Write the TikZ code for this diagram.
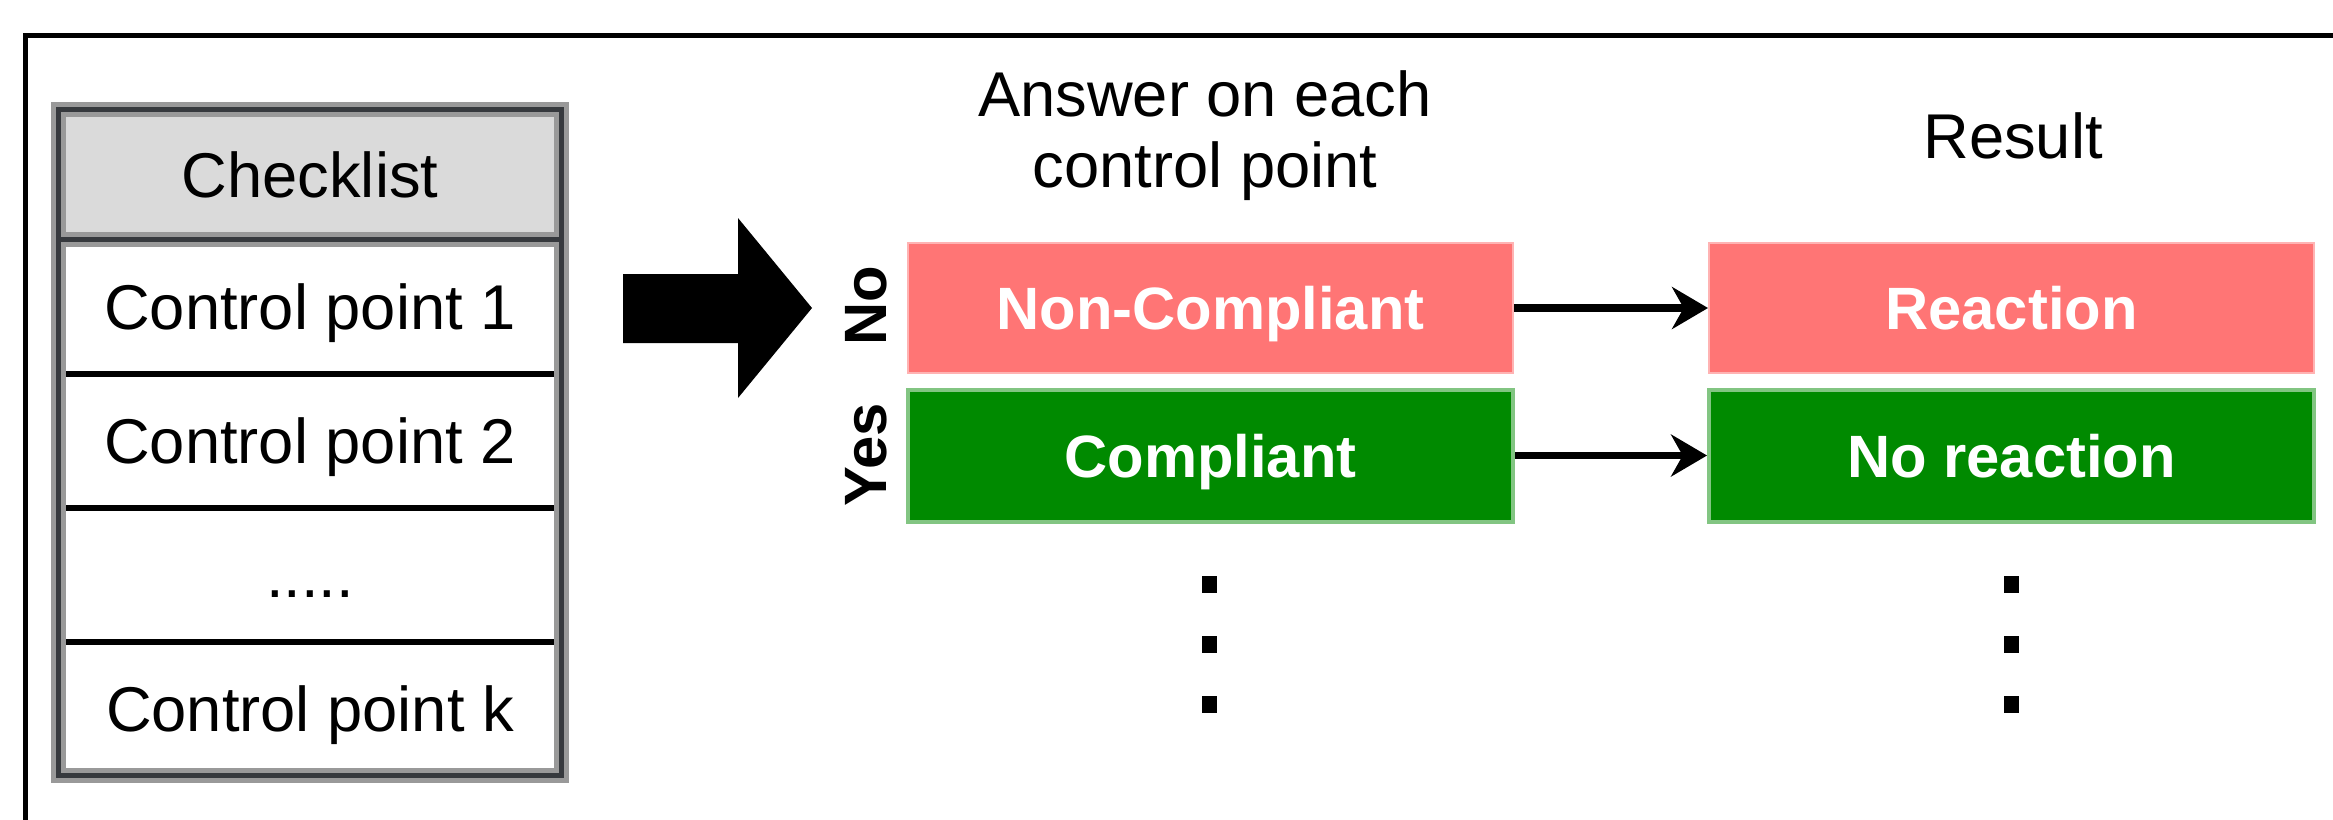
\documentclass[tikz,border=0pt]{standalone}
\usepackage{fontspec}
\setmainfont{Liberation Sans}
\usetikzlibrary{arrows.meta,positioning}
\definecolor{ncred}{RGB}{255,117,117}
\definecolor{ncredline}{RGB}{255,179,179}
\definecolor{cgreen}{RGB}{0,138,0}
\definecolor{cgreenline}{RGB}{130,197,130}
\definecolor{headgray}{RGB}{218,218,218}
\definecolor{tabdark}{RGB}{54,57,61}
\definecolor{tabhalo}{RGB}{153,153,153}

\begin{document}
\begin{tikzpicture}[
    cell/.style={rectangle, draw=black, line width=0.03cm, minimum width=5cm, minimum height=1.31cm, inner sep=0pt, text height=0.455cm, text depth=0pt, font=\fontsize{18}{21}\selectfont},
    headcell/.style={cell, fill=headgray, minimum height=1.27cm},
    nobox/.style={rectangle, fill=ncred, draw=ncredline, line width=0.02cm, minimum width=6.05cm, minimum height=1.3cm, inner sep=0pt, text height=0.43cm, text depth=0pt, text=white, font=\fontsize{17}{20}\selectfont\bfseries},
    yesbox/.style={nobox, fill=cgreen, draw=cgreenline, line width=0.04cm, minimum height=1.32cm},
    title/.style={align=center, font=\fontsize{18}{20.2}\selectfont},
    side/.style={rotate=90, inner sep=0pt, text height=0.43cm, text depth=0pt, font=\fontsize{17}{20}\selectfont\bfseries},
    vdot/.style={rectangle, fill=black, minimum width=0.15cm, minimum height=0.17cm, inner sep=0pt},
    arr/.style={-{Stealth[length=0.36cm, width=0.42cm]}, line width=0.075cm}
]
    \useasboundingbox (0,0) rectangle (23.33,-8.19);
    \draw[line width=0.05cm] (0.25,-0.355) rectangle (23.8,-8.8);

    \node[headcell] (head) at (3.10,-1.745) {Checklist};
    \node[cell, below=0pt of head] (cp1) {Control point 1};
    \node[cell, below=0pt of cp1] (cp2) {Control point 2};
    \node[cell, below=0pt of cp2] (cpdots) {.....};
    \node[cell, below=0pt of cpdots] (cpk) {Control point k};
    \draw[line width=0.15cm, tabhalo] (head.north west) rectangle (cpk.south east);
    \draw[line width=0.15cm, tabhalo] (head.south west) -- (head.south east);
    \draw[line width=0.05cm, tabdark] (head.north west) rectangle (cpk.south east);
    \draw[line width=0.05cm, tabdark] (head.south west) -- (head.south east);

    \fill (6.23,-2.74) -- (7.38,-2.74) -- (7.38,-2.18) -- (8.12,-3.08)
        -- (7.38,-3.98) -- (7.38,-3.43) -- (6.23,-3.43) -- cycle;

    \node[title] (answer) at (12.05,-1.36) {Answer on each\\control point};
    \node[title] (result) at (20.13,-1.36) {Result};

    \node[side] (nolab) at (8.65,-3.06) {No};
    \node[side] (yeslab) at (8.65,-4.55) {Yes};

    \node[nobox] (nc) at (12.105,-3.08) {Non-Compliant};
    \node[yesbox] (comp) at (12.105,-4.555) {Compliant};
    \node[nobox] (react) at (20.115,-3.08) {Reaction};
    \node[yesbox] (noreact) at (20.115,-4.555) {No reaction};

    \draw[arr] (nc) -- (react);
    \draw[arr] (comp) -- (noreact);

    \foreach \y [count=\i] in {5.84,6.44,7.04} {
        \node[vdot] (dl\i) at (12.09,-\y) {};
        \node[vdot] (dr\i) at (20.11,-\y) {};
    }
\end{tikzpicture}
\end{document}
